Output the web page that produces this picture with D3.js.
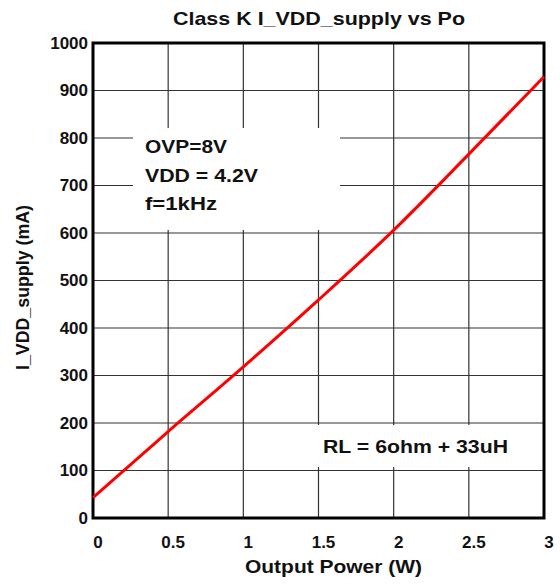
<!DOCTYPE html>
<html>
<head>
<meta charset="utf-8">
<script src="https://cdn.jsdelivr.net/npm/d3@7"></script>
<style>
  html, body { margin: 0; padding: 0; background: #fff; }
  svg { display: block; }
  text { font-family: "Liberation Sans", Arial, sans-serif; font-weight: bold; fill: #111; }
</style>
</head>
<body>
<svg id="chart" width="560" height="586"></svg>
<script>
const powerW = [0, 0.5, 1, 1.5, 2, 2.5, 3];
const supplyMA = [43, 182, 318, 459, 606, 766, 929];
const xTicks = [0, 0.5, 1, 1.5, 2, 2.5, 3];
const yTicks = [0, 100, 200, 300, 400, 500, 600, 700, 800, 900, 1000];
const titleText = "Class K I_VDD_supply vs Po";
const xTitle = "Output Power (W)";
const yTitle = "I_VDD_supply (mA)";
const noteLines = ["OVP=8V", "VDD = 4.2V", "f=1kHz"];
const loadNote = "RL = 6ohm + 33uH";

const svg = d3.select("#chart");
const L = 93, R = 544, T = 43, B = 518;
const x = d3.scaleLinear().domain([0, 3]).range([L, R]);
const y = d3.scaleLinear().domain([0, 1000]).range([B, T]);

// grid
const grid = svg.append("g").attr("stroke", "#333").attr("stroke-width", 1.2);
grid.selectAll("line.v").data(xTicks.slice(1, -1)).join("line")
  .attr("x1", d => x(d)).attr("x2", d => x(d)).attr("y1", T).attr("y2", B);
grid.selectAll("line.h").data(yTicks.slice(1, -1)).join("line")
  .attr("y1", d => y(d)).attr("y2", d => y(d)).attr("x1", L).attr("x2", R);

// white annotation boxes
svg.append("rect").attr("x", 133).attr("y", 128).attr("width", 207).attr("height", 102).attr("fill", "#fff");
svg.append("rect").attr("x", 316).attr("y", 425).attr("width", 228).attr("height", 42).attr("fill", "#fff");

// frame
svg.append("rect").attr("x", L).attr("y", T).attr("width", R - L).attr("height", B - T)
  .attr("fill", "none").attr("stroke", "#000").attr("stroke-width", 3);

// data line
const line = d3.line().x((d, i) => x(powerW[i])).y(d => y(d)).curve(d3.curveMonotoneX);
svg.append("path").datum(supplyMA).attr("d", line)
  .attr("fill", "none").attr("stroke", "#ff0000").attr("stroke-width", 3);

// tick labels
svg.append("g").selectAll("text").data(yTicks).join("text")
  .attr("x", 88).attr("y", d => y(d)).attr("dy", "0.35em")
  .attr("text-anchor", "end").attr("font-size", 17).text(d => d);
svg.append("g").selectAll("text").data(xTicks).join("text")
  .attr("x", d => x(d) + 5).attr("y", 548)
  .attr("text-anchor", "middle").attr("font-size", 17).text(d => d);

// title & axis titles
svg.append("text").attr("x", 173).attr("y", 25).attr("font-size", 18.5)
  .attr("textLength", 292).attr("lengthAdjust", "spacingAndGlyphs").text(titleText);
svg.append("text").attr("x", 245).attr("y", 573).attr("font-size", 18)
  .attr("textLength", 177).attr("lengthAdjust", "spacingAndGlyphs").text(xTitle);
svg.append("text").attr("transform", "translate(29,370) rotate(-90)").attr("font-size", 18)
  .attr("textLength", 165).attr("lengthAdjust", "spacingAndGlyphs").text(yTitle);

// annotations
const noteX = 145, noteY = [153, 181.5, 210], noteW = [82, 113, 72];
svg.append("g").selectAll("text").data(noteLines).join("text")
  .attr("x", noteX).attr("y", (d, i) => noteY[i]).attr("font-size", 18.5)
  .attr("textLength", (d, i) => noteW[i]).attr("lengthAdjust", "spacingAndGlyphs").text(d => d);
svg.append("text").attr("x", 323).attr("y", 453).attr("font-size", 18.5)
  .attr("textLength", 185).attr("lengthAdjust", "spacingAndGlyphs").text(loadNote);
</script>
</body>
</html>
